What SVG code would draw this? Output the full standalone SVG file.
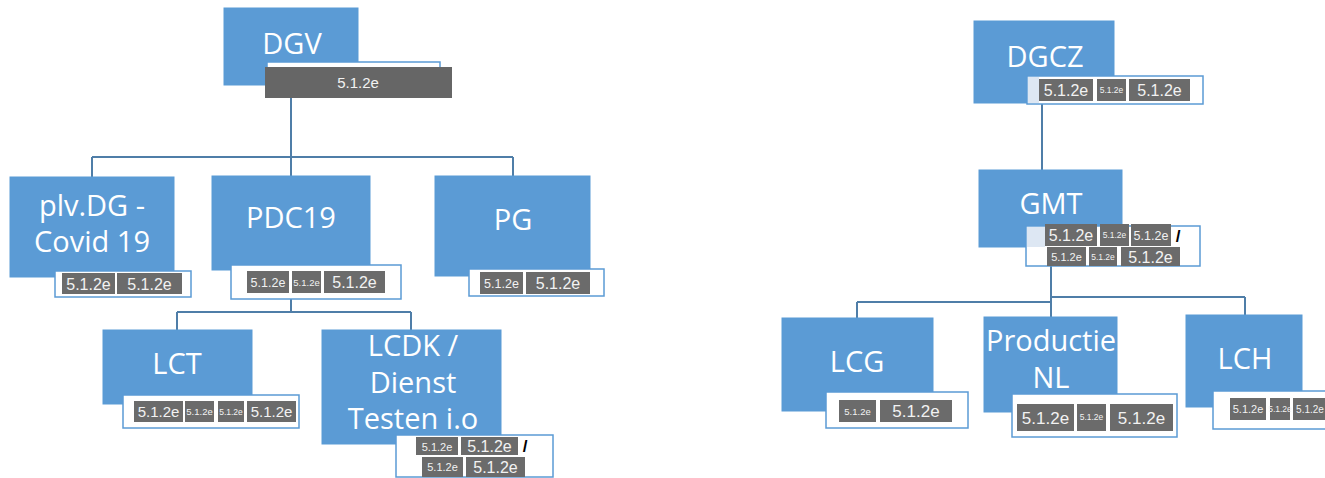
<svg xmlns="http://www.w3.org/2000/svg" width="1325" height="478" viewBox="0 0 1325 478">
<style>
.box{fill:#5b9bd5;stroke:#5b9bd5;stroke-width:1}
.lbl{fill:#ffffff;font-family:"Open Sans","Noto Sans",sans-serif;font-size:29px;text-anchor:middle}
.sub{fill:#ffffff;stroke:#5b9bd5;stroke-width:1.5}
.pale{fill:#dde7f3}
.c{fill:#6b6b6b}
.t{fill:#f2f2f2;font-family:"Liberation Sans",Arial,sans-serif;text-anchor:middle}
.l{font-size:16px}
.m{font-size:12.5px}
.s{font-size:9.5px}
.xs{font-size:8.5px}
.sl{fill:#000000;font-family:"Liberation Sans",Arial,sans-serif;font-size:17px;font-weight:bold;text-anchor:middle}
.con{fill:none;stroke:#4f7ea8;stroke-width:2}
</style>
<rect width="1325" height="478" fill="#ffffff"/>
<g id="connectors">
<path class="con" d="M291 98V157M92 157H513M92 157V177M291 157V176M513 157V176"/>
<path class="con" d="M291 299V312M177 312H411M177 312V330M411 312V330"/>
<path class="con" d="M1042 104V170"/>
<path class="con" d="M1051 266V317M857 302H1051M1051 297H1245M857 302V318M1245 297V315"/>
</g>
<g id="DGV">
<rect class="box" x="224" y="8" width="134" height="77"/>
<text class="lbl" x="292" y="54" font-size="30">DGV</text>
<rect class="sub" x="267" y="62" width="173" height="34"/>
<rect fill="#666666" x="265" y="67" width="187" height="31"/>
<text class="t" x="358" y="88" font-size="15">5.1.2e</text>
</g>
<g id="plvDG">
<rect class="box" x="10" y="177" width="164" height="100"/>
<text class="lbl" x="92" y="216" font-size="30">plv.DG -</text>
<text class="lbl" x="92" y="252" font-size="30">Covid 19</text>
<rect class="sub" x="55" y="271" width="136" height="26"/>
<rect class="c" x="62" y="273" width="53" height="21"/><text class="t l" x="88.5" y="289.5">5.1.2e</text>
<rect class="c" x="117" y="273" width="65" height="21"/><text class="t l" x="149.5" y="289.5">5.1.2e</text>
</g>
<g id="PDC19">
<rect class="box" x="212" y="176" width="158" height="94"/>
<text class="lbl" x="291" y="228" font-size="30">PDC19</text>
<rect class="sub" x="231" y="265" width="170" height="34"/>
<rect class="c" x="247" y="271" width="42" height="22"/><text class="t m" x="268" y="286.5">5.1.2e</text>
<rect class="c" x="292" y="271" width="29" height="22"/><text class="t s" x="306.5" y="285.5">5.1.2e</text>
<rect class="c" x="324" y="271" width="61" height="22"/><text class="t l" x="354.5" y="288">5.1.2e</text>
</g>
<g id="PG">
<rect class="box" x="435" y="176" width="155" height="100"/>
<text class="lbl" x="513" y="230" font-size="30">PG</text>
<rect class="sub" x="469" y="269" width="135" height="27"/>
<rect class="c" x="480" y="272" width="43" height="22"/><text class="t m" x="501.5" y="287.5">5.1.2e</text>
<rect class="c" x="526" y="272" width="64" height="22"/><text class="t l" x="558" y="289">5.1.2e</text>
</g>
<g id="LCT">
<rect class="box" x="103" y="330" width="149" height="74"/>
<text class="lbl" x="177" y="374" font-size="30">LCT</text>
<rect class="sub" x="123" y="395" width="176" height="33"/>
<rect class="c" x="134" y="401" width="49" height="21"/><text class="t" x="158.5" y="417" font-size="15">5.1.2e</text>
<rect class="c" x="185" y="401" width="29" height="21"/><text class="t s" x="199.5" y="415">5.1.2e</text>
<rect class="c" x="218" y="401" width="26" height="21"/><text class="t xs" x="231" y="415">5.1.2e</text>
<rect class="c" x="247" y="401" width="49" height="21"/><text class="t" x="271.5" y="417" font-size="15">5.1.2e</text>
</g>
<g id="LCDK">
<rect class="box" x="322" y="330" width="179" height="114"/>
<text class="lbl" x="413" y="356" font-size="30">LCDK /</text>
<text class="lbl" x="413" y="393" font-size="30">Dienst</text>
<text class="lbl" x="413" y="429" font-size="30">Testen i.o</text>
<rect class="sub" x="396" y="435" width="157" height="42"/>
<rect class="c" x="416" y="437" width="42" height="18"/><text class="t" x="437" y="450.5" font-size="11">5.1.2e</text>
<rect class="c" x="461" y="437" width="57" height="18"/><text class="t l" x="489.5" y="452">5.1.2e</text>
<text class="sl" x="525" y="452">/</text>
<rect class="c" x="422" y="457" width="41" height="20"/><text class="t" x="442.5" y="471" font-size="11">5.1.2e</text>
<rect class="c" x="466" y="457" width="59" height="20"/><text class="t l" x="495.5" y="473">5.1.2e</text>
</g>
<g id="DGCZ">
<rect class="box" x="974" y="21" width="140" height="82"/>
<text class="lbl" x="1045" y="67">DGCZ</text>
<rect class="sub" x="1027" y="76" width="176" height="28"/>
<rect class="pale" x="1028" y="77" width="11" height="26"/>
<rect class="c" x="1039" y="79" width="54" height="22"/><text class="t l" x="1066" y="96">5.1.2e</text>
<rect class="c" x="1097" y="79" width="29" height="22"/><text class="t xs" x="1111.5" y="93">5.1.2e</text>
<rect class="c" x="1129" y="79" width="61" height="22"/><text class="t l" x="1159.5" y="96">5.1.2e</text>
</g>
<g id="GMT">
<rect class="box" x="979" y="170" width="143" height="77"/>
<text class="lbl" x="1051" y="214">GMT</text>
<rect class="sub" x="1026" y="226" width="174" height="40"/>
<rect class="pale" x="1027" y="227" width="18" height="20"/>
<rect class="c" x="1045" y="224" width="52" height="22"/><text class="t l" x="1071" y="241">5.1.2e</text>
<rect class="c" x="1100" y="224" width="29" height="22"/><text class="t xs" x="1114.5" y="238">5.1.2e</text>
<rect class="c" x="1131" y="224" width="40" height="22"/><text class="t m" x="1151" y="239.5">5.1.2e</text>
<text class="sl" x="1178" y="242">/</text>
<rect class="c" x="1047" y="247" width="39" height="19"/><text class="t" x="1066.5" y="260.5" font-size="11">5.1.2e</text>
<rect class="c" x="1089" y="247" width="28" height="19"/><text class="t xs" x="1103" y="260">5.1.2e</text>
<rect class="c" x="1121" y="247" width="59" height="19"/><text class="t l" x="1150.5" y="262.5">5.1.2e</text>
</g>
<g id="LCG">
<rect class="box" x="782" y="318" width="151" height="93"/>
<text class="lbl" x="857" y="372" font-size="30">LCG</text>
<rect class="sub" x="826" y="392" width="142" height="36"/>
<rect class="c" x="839" y="400" width="37" height="22"/><text class="t s" x="857.5" y="414.5">5.1.2e</text>
<rect class="c" x="880" y="400" width="72" height="22"/><text class="t" x="916" y="417" font-size="17">5.1.2e</text>
</g>
<g id="ProductieNL">
<rect class="box" x="984" y="317" width="133" height="95"/>
<text class="lbl" x="1051" y="351" font-size="27">Productie</text>
<text class="lbl" x="1051" y="388" font-size="27">NL</text>
<rect class="sub" x="1012" y="394" width="165" height="43"/>
<rect class="c" x="1017" y="404" width="57" height="27"/><text class="t" x="1045.5" y="424" font-size="17">5.1.2e</text>
<rect class="c" x="1077" y="404" width="29" height="27"/><text class="t xs" x="1091.5" y="420">5.1.2e</text>
<rect class="c" x="1110" y="404" width="63" height="27"/><text class="t" x="1141.5" y="424" font-size="17">5.1.2e</text>
</g>
<g id="LCH">
<rect class="box" x="1186" y="315" width="116" height="92"/>
<text class="lbl" x="1245" y="369" font-size="30">LCH</text>
<rect class="sub" x="1213" y="391" width="130" height="38"/>
<rect class="c" x="1230" y="398" width="36" height="22"/><text class="t" x="1248" y="413" font-size="11">5.1.2e</text>
<rect class="c" x="1270" y="398" width="20" height="22"/><text class="t xs" x="1280" y="412">5.1.2e</text>
<rect class="c" x="1293" y="398" width="34" height="22"/><text class="t" x="1310" y="412.5" font-size="10">5.1.2e</text>
</g>
</svg>
